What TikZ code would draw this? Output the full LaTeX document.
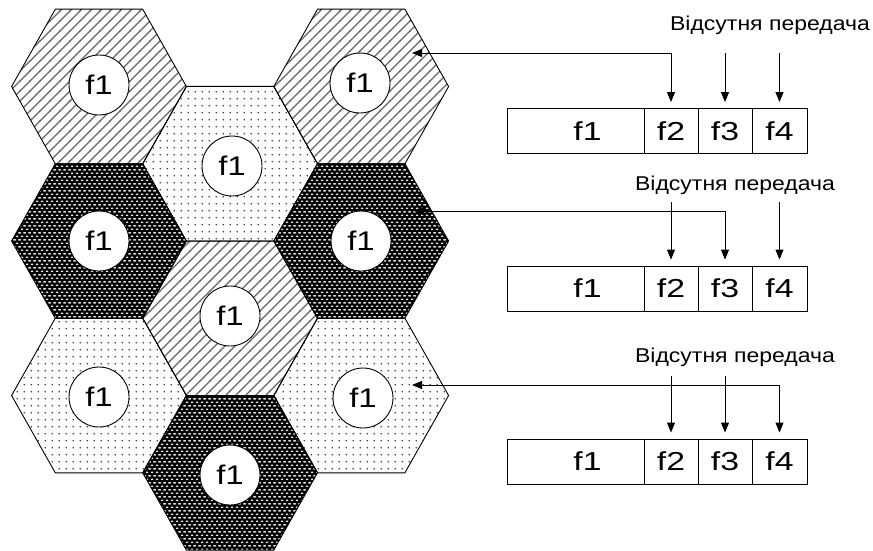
\documentclass[tikz,border=0pt]{standalone}
\usepackage{graphicx}
\usepackage{fontspec}
\setmainfont{Liberation Sans}
\usetikzlibrary{patterns,arrows.meta}

\pgfdeclarepatternformonly{hstripes}{\pgfqpoint{-1pt}{-1pt}}{\pgfqpoint{11pt}{11pt}}{\pgfqpoint{10pt}{10pt}}{%
  \pgfsetlinewidth{1.3pt}%
  \pgfpathmoveto{\pgfqpoint{-0.5pt}{-0.5pt}}%
  \pgfpathlineto{\pgfqpoint{10.5pt}{10.5pt}}%
  \pgfusepath{stroke}}

\pgfdeclarepatternformonly{hdots}{\pgfqpoint{0pt}{0pt}}{\pgfqpoint{7.2pt}{7.2pt}}{\pgfqpoint{7.2pt}{7.2pt}}{%
  \pgfpathcircle{\pgfqpoint{3.6pt}{3.6pt}}{0.85pt}%
  \pgfusepath{fill}}

\pgfdeclarepatternformonly{hbricks}{\pgfqpoint{0pt}{0pt}}{\pgfqpoint{5pt}{7.4pt}}{\pgfqpoint{5pt}{7.4pt}}{%
  \pgfpathellipse{\pgfqpoint{2.5pt}{1.85pt}}{\pgfqpoint{1.65pt}{0pt}}{\pgfqpoint{0pt}{0.95pt}}%
  \pgfpathellipse{\pgfqpoint{0pt}{5.55pt}}{\pgfqpoint{1.65pt}{0pt}}{\pgfqpoint{0pt}{0.95pt}}%
  \pgfpathellipse{\pgfqpoint{5pt}{5.55pt}}{\pgfqpoint{1.65pt}{0pt}}{\pgfqpoint{0pt}{0.95pt}}%
  \pgfusepath{fill}}

\newcommand\hexcell[3]{\path[#3,shift={(#1,#2)}] (87.4,0) -- (43.7,77.3) -- (-43.7,77.3) -- (-87.4,0) -- (-43.7,-77.3) -- (43.7,-77.3) -- cycle;}
\newcommand\widetext[2]{\scalebox{#1}[1]{#2}}

\tikzset{
  stripecell/.style={pattern=hstripes, pattern color=black!60},
  dotcell/.style={pattern=hdots, pattern color=black!75},
  darkcell/.style={fill=black, postaction={pattern=hbricks, pattern color=white}},
  hexline/.style={draw=black, line width=0.9pt},
  fcircle/.style={circle, draw=black, fill=white, line width=0.9pt, minimum size=60pt, inner sep=0pt, font=\fontsize{27}{27}\selectfont},
  cellbox/.style={rectangle, draw=black, line width=0.9pt, minimum height=45pt, inner sep=0pt, font=\fontsize{26}{26}\selectfont},
  lbl/.style={inner sep=0pt, font=\fontsize{20}{20}\selectfont},
  arr/.style={-{Triangle[length=10pt,width=8pt]}, line width=0.9pt},
  arrb/.style={{Triangle[length=10pt,width=8pt]}-{Triangle[length=10pt,width=8pt]}, line width=0.9pt}
}

\begin{document}
\begin{tikzpicture}[x=1pt,y=-1pt]
\useasboundingbox (0,0) rectangle (873,551);
\fill[white] (0,0) rectangle (873,551);

% fills
\hexcell{99}{86.5}{stripecell}
\hexcell{99}{241}{darkcell}
\hexcell{99}{395.5}{dotcell}
\hexcell{230.1}{163.75}{dotcell}
\hexcell{230.1}{318.25}{stripecell}
\hexcell{230.1}{472.75}{darkcell}
\hexcell{361.2}{86.5}{stripecell}
\hexcell{361.2}{241}{darkcell}
\hexcell{361.2}{395.5}{dotcell}
% outlines
\hexcell{99}{86.5}{hexline}
\hexcell{99}{241}{hexline}
\hexcell{99}{395.5}{hexline}
\hexcell{230.1}{163.75}{hexline}
\hexcell{230.1}{318.25}{hexline}
\hexcell{230.1}{472.75}{hexline}
\hexcell{361.2}{86.5}{hexline}
\hexcell{361.2}{241}{hexline}
\hexcell{361.2}{395.5}{hexline}

% circles
\node[fcircle] (c1) at (99,85) {\widetext{1.22}{f1}};
\node[fcircle] (c2) at (99,241) {\widetext{1.22}{f1}};
\node[fcircle] (c3) at (99,397) {\widetext{1.22}{f1}};
\node[fcircle] (c4) at (232,166) {\widetext{1.22}{f1}};
\node[fcircle] (c5) at (230,316) {\widetext{1.22}{f1}};
\node[fcircle] (c6) at (230,475) {\widetext{1.22}{f1}};
\node[fcircle] (c7) at (360,83) {\widetext{1.22}{f1}};
\node[fcircle] (c8) at (361,241) {\widetext{1.22}{f1}};
\node[fcircle] (c9) at (363,398) {\widetext{1.22}{f1}};

% frequency boxes
\foreach \b/\y in {1/131, 2/288.5, 3/461.5}{
  \node[cellbox, minimum width=137pt] (b\b f1) at (575.5,\y) {\hspace*{24pt}\widetext{1.3}{f1}};
  \node[cellbox, minimum width=54pt] (b\b f2) at (671,\y) {\widetext{1.3}{f2}};
  \node[cellbox, minimum width=54pt] (b\b f3) at (725,\y) {\widetext{1.3}{f3}};
  \node[cellbox, minimum width=55pt] (b\b f4) at (779.5,\y) {\widetext{1.3}{f4}};
}

% labels
\node[lbl] (l1) at (770,25) {\widetext{1.15}{Відсутня передача}};
\node[lbl] (l2) at (735,185) {\widetext{1.15}{Відсутня передача}};
\node[lbl] (l3) at (735,357) {\widetext{1.15}{Відсутня передача}};

% targets and starts
\coordinate (t1) at (412,53);
\coordinate (t2) at (414,211);
\coordinate (t3) at (412,385);
\coordinate (s2) at (671,202);
\coordinate (s3) at (671,376);

% group 1
\draw[arrb] (t1) -| ([yshift=6pt]b1f2.north);
\draw[arr] (b1f3.north |- t1) -- ([yshift=6pt]b1f3.north);
\draw[arr] (b1f4.north |- t1) -- ([yshift=6pt]b1f4.north);
% group 2
\draw[arrb] (t2) -| ([yshift=6pt]b2f3.north);
\draw[arr] (b2f2.north |- s2) -- ([yshift=6pt]b2f2.north);
\draw[arr] (b2f4.north |- s2) -- ([yshift=6pt]b2f4.north);
% group 3
\draw[arrb] (t3) -| ([yshift=6pt]b3f4.north);
\draw[arr] (b3f2.north |- s3) -- ([yshift=6pt]b3f2.north);
\draw[arr] (b3f3.north |- s3) -- ([yshift=6pt]b3f3.north);
\end{tikzpicture}
\end{document}
